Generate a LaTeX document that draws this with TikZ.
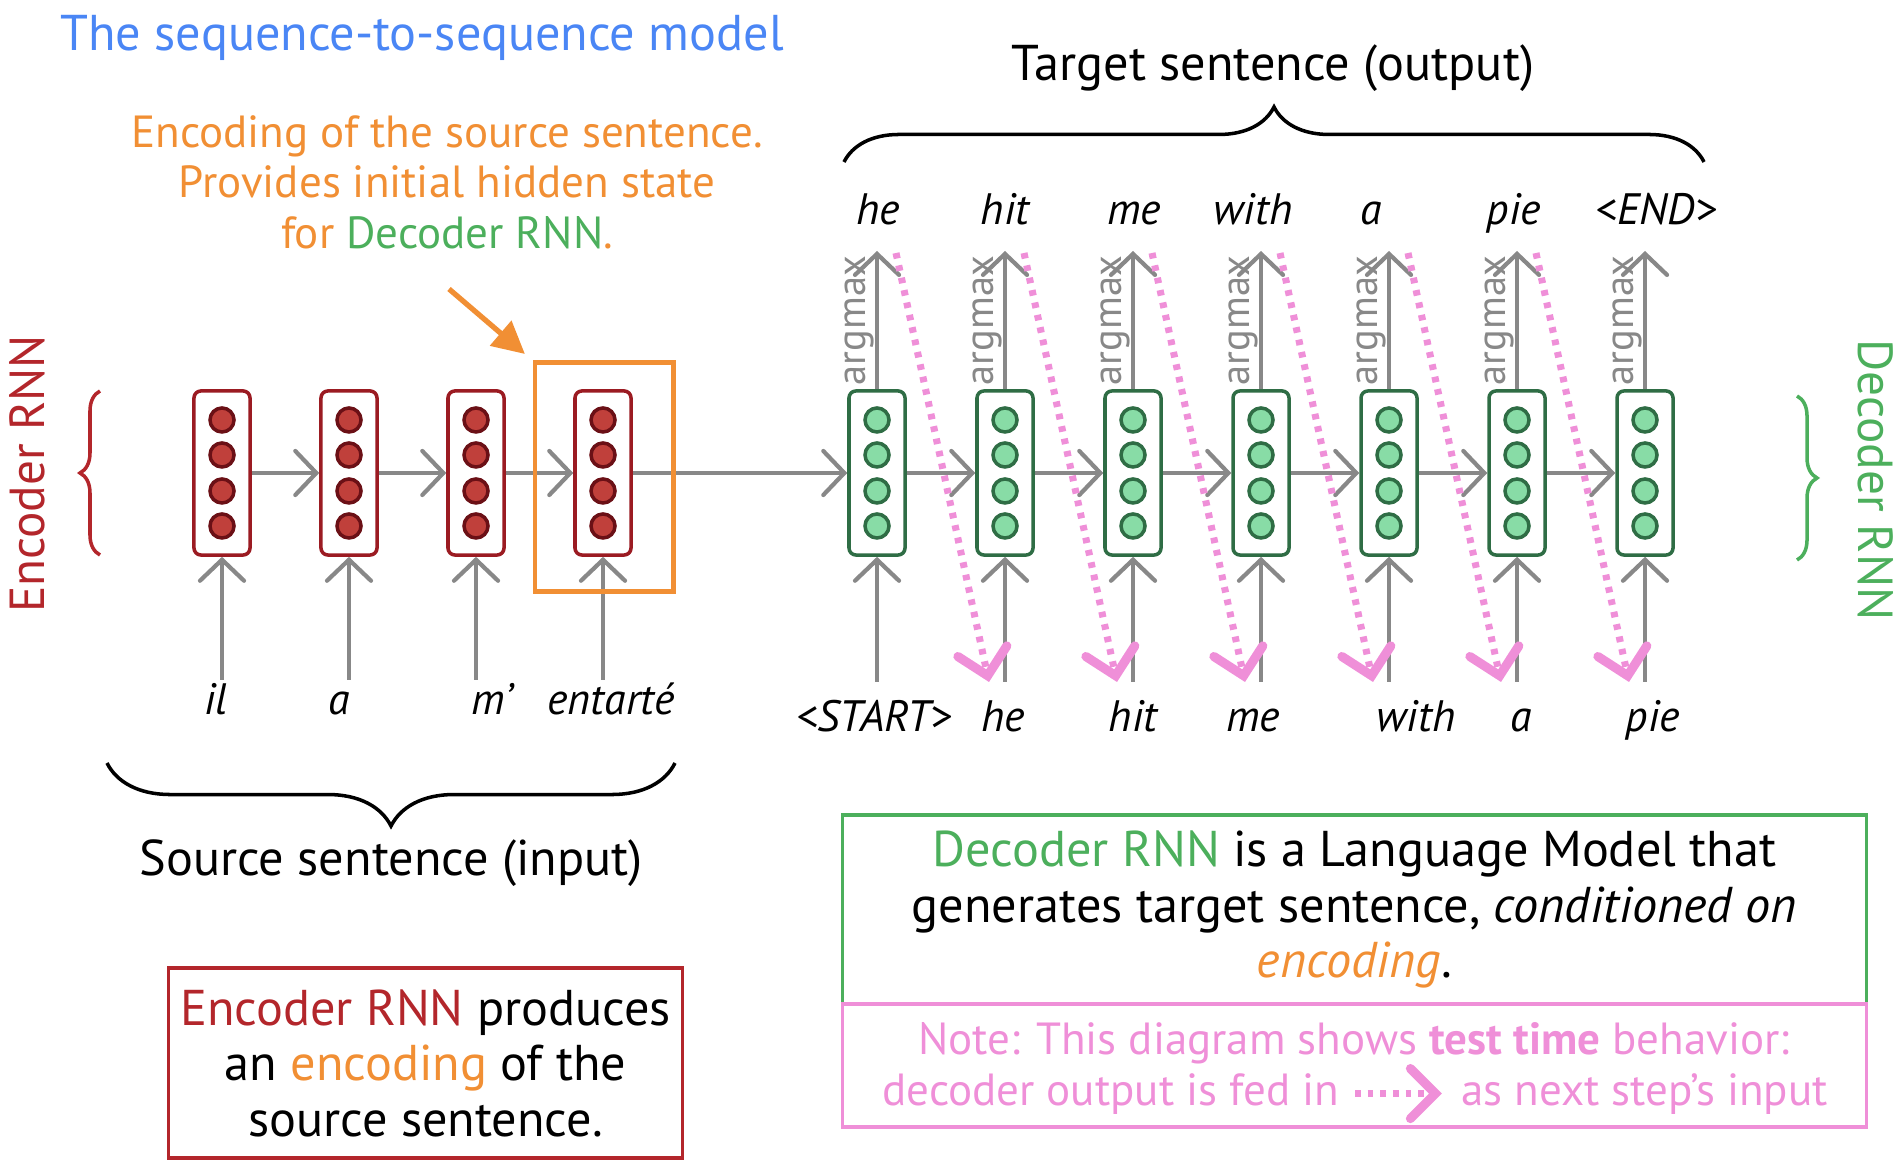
\documentclass[tikz,border=0pt]{standalone}
\usepackage{fontspec}
\setmainfont{PT Sans}
\usetikzlibrary{arrows.meta, calc, positioning, decorations.pathreplacing}

\definecolor{encred}{HTML}{B3262B}
\definecolor{cellred}{HTML}{9B1B22}
\definecolor{dotred}{HTML}{C0403B}
\definecolor{dotredline}{HTML}{6B1016}
\definecolor{decgreen}{HTML}{4CAF5C}
\definecolor{cellgreen}{HTML}{2F6D45}
\definecolor{dotgreen}{HTML}{88DCA6}
\definecolor{encorange}{HTML}{F18F34}
\definecolor{notepink}{HTML}{EF8FD8}
\definecolor{titleblue}{HTML}{4A86F5}
\definecolor{flowgray}{HTML}{888888}

\tikzset{
  cell/.style={draw, rounded corners=0.7mm, line width=1pt, minimum width=5.6mm, minimum height=16.4mm, inner sep=0pt, fill=white},
  enccell/.style={cell, draw=cellred},
  deccell/.style={cell, draw=cellgreen},
  encdot/.style={fill=dotred, draw=dotredline, line width=1pt},
  decdot/.style={fill=dotgreen, draw=cellgreen, line width=1pt},
  flow/.style={draw=flowgray, line width=1.2pt, -{Straight Barb[length=2.1mm, width=4.4mm, line cap=round]}},
  feedback/.style={draw=notepink, line width=2pt, dash pattern=on 1.6pt off 2pt, -{Straight Barb[length=2.5mm, width=5mm, line width=2.6pt, line cap=round]}},
  word/.style={font=\fontsize{12.5}{14}\selectfont\itshape, anchor=base, inner sep=0pt},
  argtext/.style={font=\fontsize{11.5}{14}\selectfont, text=flowgray, rotate=90, anchor=base west, inner sep=0pt},
  bigtext/.style={font=\fontsize{14.3}{15.8}\selectfont, align=center},
  notetext/.style={font=\fontsize{12.8}{14.4}\selectfont, text=notepink},
  rnnname/.style={font=\fontsize{14}{16}\selectfont},
  bracebig/.style={decorate, decoration={brace, amplitude=5.5mm}, line width=1pt},
  bracesmall/.style={decorate, decoration={brace, amplitude=2mm}, line width=1pt}
}

\begin{document}
\begin{tikzpicture}[x=0.01cm, y=-0.01cm]
  \useasboundingbox (0,0) rectangle (1904,1168);

  % Title and top labels
  \node[font=\fontsize{14.3}{16}\selectfont, text=titleblue, anchor=west] (title) at (48,38) {The sequence-to-sequence model};
  \node[font=\fontsize{12.8}{14.4}\selectfont, text=encorange, align=center] (enclabel) at (447,182)
    {Encoding of the source sentence.\\ Provides initial hidden state\\ for \textcolor{decgreen}{Decoder RNN}.};
  \node[bigtext] (tgtlabel) at (1273,68) {Target sentence (output)};

  % Encoder cells
  \foreach \i/\x/\w/\wx in {1/222/il/216, 2/349/a/339, 3/476/m’/492, 4/603/entarté/611} {
    \node[enccell] (enc\i) at (\x,473) {};
    \foreach \d in {-53,-18,18,53}
      \draw[encdot] ($(enc\i)+(0,\d)$) circle[radius=1.2mm];
    \node[word] (src\i) at (\wx,715) {\w};
    \coordinate (ein\i) at (\x,680);
    \draw[flow] (ein\i) -- (enc\i.south);
  }
  \foreach \i [count=\j from 2] in {1,2,3}
    \draw[flow] (enc\i.east) -- (enc\j.west);

  % Decoder cells
  \foreach \i/\x/\inw/\inx/\outw/\outx in {1/877/<START>/874/he/878, 2/1005/he/1003/hit/1005,
      3/1133/hit/1133/me/1134, 4/1261/me/1253/with/1253, 5/1389/with/1416/a/1371,
      6/1517/a/1521/pie/1514, 7/1645/pie/1653/<END>/1656} {
    \node[deccell] (dec\i) at (\x,473) {};
    \foreach \d in {-53,-18,18,53}
      \draw[decdot] ($(dec\i)+(0,\d)$) circle[radius=1.2mm];
    \node[word] (in\i) at (\inx,732) {\inw};
    \node[word] (out\i) at (\outx,225) {\outw};
    \coordinate (din\i) at (\x,682);
    \coordinate (dout\i) at (\x,251);
    \draw[flow] (din\i) -- (dec\i.south);
    \draw[flow] (dec\i.north) -- (dout\i);
    \node[argtext] (argmax\i) at (\x-12,386) {argmax};
  }
  \draw[flow] (enc4.east) -- (dec1.west);
  \foreach \i [count=\j from 2] in {1,...,6}
    \draw[flow] (dec\i.east) -- (dec\j.west);

  % Feeding outputs back in (test time)
  \foreach \i/\x in {1/877, 2/1005, 3/1133, 4/1261, 5/1389, 6/1517} {
    \coordinate (fbtop\i) at (\x+19,253);
    \coordinate (fbbot\i) at (\x+112,682);
    \draw[feedback] (fbtop\i) -- (fbbot\i);
  }

  % Encoding highlight
  \node[draw=encorange, line width=1.4pt, minimum width=13.8mm, minimum height=22.8mm] (encfocus) at (604,477) {};
  \coordinate (encarrowtail) at (449,289);
  \draw[encorange, line width=1.5pt, shorten >=1mm, -{Triangle[length=3.2mm, width=3.2mm]}] (encarrowtail) -- (encfocus.north west);

  % Braces
  \draw[encred, bracesmall] (100,555) -- (100,391);
  \draw[decgreen, bracesmall] (1797,396) -- (1797,560);
  \draw[bracebig] (844,162) -- (1704,162);
  \draw[bracebig, decoration={amplitude=6.3mm}] (675,763) -- (107,763);
  \node[rnnname, text=encred, rotate=90] (encname) at (27,474) {Encoder RNN};
  \node[rnnname, text=decgreen, rotate=-90] (decname) at (1876,480) {Decoder RNN};
  \node[bigtext] (srclabel) at (391,863) {Source sentence (input)};

  % Explanation boxes
  \node[bigtext, draw=encred, line width=1pt, minimum width=51.1mm, minimum height=19mm] (encnote) at (425.5,1063)
    {\textcolor{encred}{Encoder RNN} produces\\ an \textcolor{encorange}{encoding} of the\\ source sentence.};
  \node[bigtext, draw=decgreen, line width=1pt, minimum width=102.3mm, minimum height=18.9mm] (decnote) at (1354.5,909.5)
    {\textcolor{decgreen}{Decoder RNN} is a Language Model that\\ generates target sentence, \textit{conditioned on}\\ \textit{\textcolor{encorange}{encoding}}.};
  \node[draw=notepink, line width=1pt, minimum width=102.3mm, minimum height=12.3mm] (notebox) at (1354.5,1065.5) {};
  \node[notetext] (noteline) at (1354,1043) {Note: This diagram shows \textbf{test time} behavior:};
  \node[notetext, anchor=base west] (fedin) at (870,1105) {decoder output is fed in};
  \node[notetext, anchor=base east] (nextin) at (1840,1105) {as next step’s input};
  \draw[feedback, shorten <=1pt, shorten >=2pt] (fedin.east) -- (nextin.west);
\end{tikzpicture}
\end{document}
